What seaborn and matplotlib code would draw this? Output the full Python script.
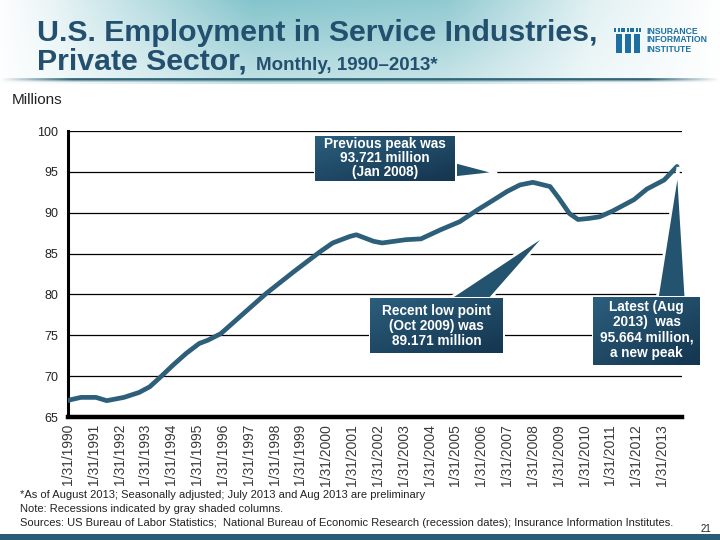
import numpy as np
import pandas as pd
import matplotlib
matplotlib.use("Agg")
import matplotlib.pyplot as plt
from matplotlib.patches import Polygon, Rectangle
import seaborn as sns

# ---------------- data ----------------
dates = ["1990-01", "1990-02", "1990-07", "1991-02", "1991-07", "1992-03", "1992-10",
         "1993-03", "1993-08", "1994-02", "1994-08", "1995-02", "1995-06", "1995-12",
         "1996-09", "1997-09", "1998-10", "1999-10", "2000-04", "2000-12", "2001-03",
         "2001-06", "2001-11", "2002-03", "2003-02", "2003-09", "2004-06", "2005-03",
         "2005-11", "2006-07", "2007-01", "2007-07", "2008-01", "2008-09", "2009-01",
         "2009-06", "2009-10", "2010-03", "2010-08", "2011-02", "2011-12", "2012-06",
         "2013-02", "2013-08"]
values = [67.0, 67.1, 67.4, 67.4, 67.0, 67.4, 68.0,
          68.7, 69.9, 71.4, 72.8, 74.0, 74.4, 75.2,
          77.3, 80.1, 82.8, 85.2, 86.3, 87.1, 87.3,
          87.0, 86.5, 86.3, 86.7, 86.8, 87.9, 88.9,
          90.3, 91.6, 92.6, 93.4, 93.72, 93.2, 91.8,
          89.9, 89.17, 89.3, 89.5, 90.2, 91.6, 92.9,
          94.0, 95.66]
tick_labels = [f"1/31/{y}" for y in range(1990, 2014)]
y_ticks = [65, 70, 75, 80, 85, 90, 95, 100]

title_line1 = "U.S. Employment in Service Industries,"
title_line2a = "Private Sector,"
title_line2b = "Monthly, 1990\u20132013*"
callout_peak = "Previous peak was\n93.721 million\n(Jan 2008)"
callout_low = "Recent low point\n(Oct 2009) was\n89.171 million"
callout_latest = "Latest (Aug\n2013)  was\n95.664 million,\na new peak"
footnotes = ["*As of August 2013; Seasonally adjusted; July 2013 and Aug 2013 are preliminary",
             "Note: Recessions indicated by gray shaded columns.",
             "Sources: US Bureau of Labor Statistics;  National Bureau of Economic Research (recession dates); Insurance Information Institutes."]

dt = pd.to_datetime(dates)
month_idx = (dt.year - 1990) * 12 + (dt.month - 1)
df = pd.DataFrame({"month": month_idx, "value": values})

# ---------------- style ----------------
sns.set_theme(style="white")
plt.rcParams["font.family"] = ["Liberation Sans", "DejaVu Sans"]

W, H = 720, 540
fig = plt.figure(figsize=(7.2, 5.4), dpi=100)
fig.patch.set_facecolor("white")

def fx(x):
    return x / W

def fy(y):
    return 1 - y / H

# ---------------- header background ----------------
hdr = fig.add_axes([0, fy(84), 1, 84 / H], zorder=0)
xs = np.linspace(0, 1, 720)
ys = np.linspace(0, 1, 84)
ax_alpha = np.interp(xs, [0, 0.06, 0.35, 0.62, 0.82, 1.0], [0.02, 0.15, 1.0, 0.9, 0.25, 0.0])
ay_alpha = np.interp(ys, [0, 1], [1.0, 0.5])
A = np.outer(ay_alpha, ax_alpha)[..., None]
teal = np.array([0.52, 0.77, 0.80])
img = (1 - A) * 1.0 + A * teal
hdr.imshow(img, aspect="auto", extent=(0, 720, 84, 0))
line_alpha = np.interp(xs, [0, 0.03, 0.1, 0.9, 0.97, 1.0], [0, 0.3, 1, 1, 0.3, 0])
rule = np.ones((4, 720, 4))
rule[..., :3] = np.array([0.20, 0.40, 0.47])
rule[..., 3] = line_alpha[None, :] * np.array([0.9, 1.0, 0.6, 0.25])[:, None]
hdr.imshow(rule, aspect="auto", extent=(0, 720, 82, 78))
hdr.set_xlim(0, 720)
hdr.set_ylim(84, 0)
hdr.axis("off")

# ---------------- main chart ----------------
ax = fig.add_axes([fx(68), fy(417), (682 - 68) / W, (417 - 131) / H], zorder=2)
ax.set_facecolor("none")
sns.lineplot(data=df, x="month", y="value", ax=ax, color="#2e5f7a", linewidth=3.4,
             zorder=3)
ax.set_xlim(0, 285.3)
ax.set_ylim(65, 100)
ax.set_yticks(y_ticks)
ax.set_yticklabels([str(v) for v in y_ticks], fontsize=9, color="#222222")
ax.set_xticks(np.arange(len(tick_labels)) * 12)
ax.set_xticklabels(tick_labels, rotation=90, fontsize=10, color="#3a3a3a")
ax.set_xlabel("")
ax.set_ylabel("")
ax.tick_params(axis="y", length=0, pad=7)
ax.tick_params(axis="x", length=0, pad=5)
ax.yaxis.grid(True, color="black", linewidth=0.9)
ax.xaxis.grid(False)
for s in ["top", "right"]:
    ax.spines[s].set_visible(False)
ax.spines["left"].set_color("black")
ax.spines["left"].set_linewidth(2.2)
ax.spines["bottom"].set_color("black")
ax.spines["bottom"].set_linewidth(3.2)
ax.spines["bottom"].set_zorder(4)

# ---------------- overlay (pixel coordinates) ----------------
ov = fig.add_axes([0, 0, 1, 1], zorder=5)
ov.set_facecolor("none")

def callout(box, pointer, text, lines_y):
    x0, y0, x1, y1 = box
    ov.add_patch(Polygon(pointer, closed=True, facecolor="#24536f", edgecolor="white",
                         linewidth=2.0, zorder=5))
    ov.add_patch(Rectangle((x0 - 1.5, y0 - 1.5), x1 - x0 + 3, y1 - y0 + 3,
                           facecolor="white", edgecolor="none", zorder=5.5))
    gx = np.linspace(0, 1, 60)
    gy = np.linspace(0, 1, 30)
    t = 0.55 * gy[:, None] + 0.45 * gx[None, :]
    c0 = np.array([0.17, 0.37, 0.49])
    c1 = np.array([0.08, 0.21, 0.31])
    g = c0 + (c1 - c0) * t[..., None]
    ov.imshow(g, aspect="auto", extent=(x0, x1, y1, y0), zorder=6)
    cx = (x0 + x1) / 2
    for ln, yy in zip(text.split("\n"), lines_y):
        ov.text(cx, yy, ln, color="white", fontsize=9.8, fontweight="bold",
                ha="center", va="center", zorder=7)

callout((315, 136, 455, 181), [(452, 161), (452, 178), (497, 173)], callout_peak,
        [144, 158, 172])
callout((370, 298, 503, 353), [(447, 300), (489, 300), (548, 233)], callout_low,
        [311, 326, 341])
callout((593, 297, 700, 365), [(657, 299), (686, 299), (678, 167)], callout_latest,
        [307, 322, 338, 353])

# title
tcol = "#23506e"
ov.text(37, 33, title_line1, fontsize=21.8, fontweight="bold", color=tcol,
        ha="left", va="center", zorder=7)
ov.text(37, 62, title_line2a, fontsize=21.8, fontweight="bold", color=tcol,
        ha="left", va="center", zorder=7)
ov.text(256, 66, title_line2b, fontsize=13.5, fontweight="bold", color=tcol,
        ha="left", va="center", zorder=7)

# logo
logo_col = "#1c6f9f"
for bx in [616, 625, 634]:
    ov.add_patch(Rectangle((bx, 34), 6, 19, facecolor=logo_col, edgecolor="none", zorder=7))
    for k in range(3):
        ov.add_patch(Rectangle((bx - 2 + k * 3.5, 28), 2.2, 3.5, facecolor=logo_col,
                               edgecolor="none", zorder=7))
for i, w in enumerate(["INSURANCE", "INFORMATION", "INSTITUTE"]):
    ov.text(646, 31 + i * 9, w, fontsize=6.2, fontweight="bold", color=logo_col,
            ha="left", va="center", zorder=7)

# labels
ov.text(12, 100, "Millions", fontsize=11, color="#222222", ha="left", va="center")
for i, fn in enumerate(footnotes):
    ov.text(20, 495 + i * 14, fn, fontsize=8.0, color="#222222", ha="left", va="center")
ov.text(706, 529, "21", fontsize=7, color="#222222", ha="center", va="center")

# bottom bar
ov.add_patch(Rectangle((0, 534), 720, 6, facecolor="#2a5c74", edgecolor="none", zorder=7))

ov.set_xlim(0, 720)
ov.set_ylim(540, 0)
ov.axis("off")

fig.savefig("out.png", dpi=100)
